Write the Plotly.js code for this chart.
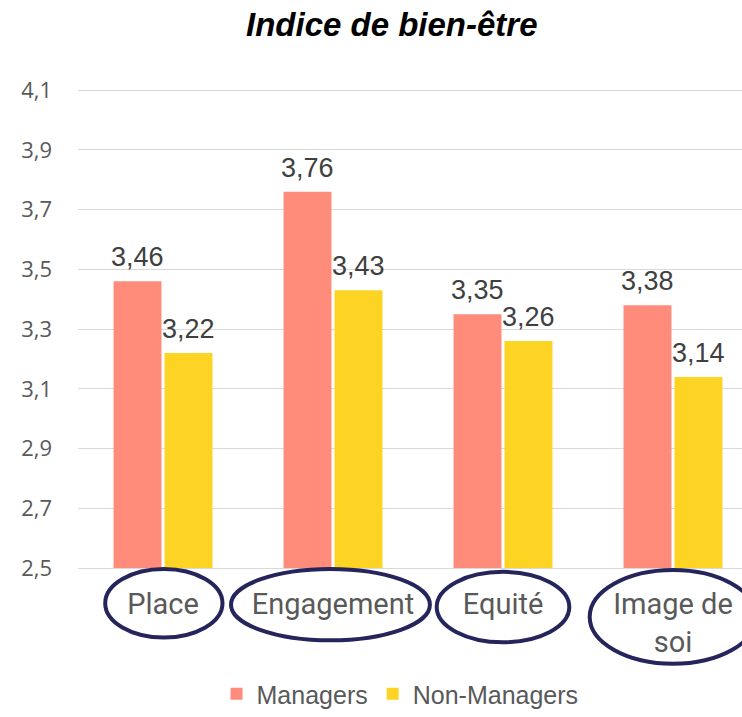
<!DOCTYPE html>
<html><head><meta charset="utf-8">
<script src="https://cdn.plot.ly/plotly-3.0.1.min.js"></script>
<style>html,body{margin:0;padding:0;background:#fff}</style>
</head><body><div id="chart" style="width:742px;height:717px"></div>
<script>
const categories = ["Place", "Engagement", "Equité", "Image de<br>soi"];
const managers = [3.46, 3.76, 3.35, 3.38];
const nonManagers = [3.22, 3.43, 3.26, 3.14];
const seriesNames = ["Managers", "Non-Managers"];
const yTicks = [2.5, 2.7, 2.9, 3.1, 3.3, 3.5, 3.7, 3.9, 4.1];

const fmt = v => v.toFixed(2).replace('.', ',');
const traces = [
  {type: "bar", name: seriesNames[0], x: [0,1,2,3], y: managers,
   marker: {color: "#FF8B7B"}, hoverinfo: "none"},
  {type: "bar", name: seriesNames[1], x: [0,1,2,3], y: nonManagers,
   marker: {color: "#FDD324"}, hoverinfo: "none"}
];

const labelFont = {family: "'Liberation Sans', Arial, sans-serif", size: 27, color: "#404040"};
const annotations = [];
[managers, nonManagers].forEach((arr, si) => {
  arr.forEach((v, i) => {
    annotations.push({x: i, y: v, xref: "x", yref: "y", text: fmt(v), showarrow: false,
      xanchor: "center", yanchor: "bottom", xshift: si === 0 ? -25.5 : 25.5, yshift: 7,
      font: labelFont});
  });
});

// ellipses around category labels (in category units, paper y below axis)
const ellipseSpans = [[-0.34, 0.35, -0.002, -0.145], [0.40, 1.57, -0.002, -0.151], [1.61, 2.39, -0.008, -0.155], [2.51, 3.49, -0.004, -0.2]];
const shapes = ellipseSpans.map(s => ({type: "circle", xref: "x", yref: "paper",
  x0: s[0], x1: s[1], y0: s[2], y1: s[3], line: {color: "#25255C", width: 4}, layer: "above"}));

const layout = {
  width: 742, height: 717,
  margin: {l: 78, r: 0, t: 89, b: 149, autoexpand: false},
  paper_bgcolor: "#fff", plot_bgcolor: "#fff",
  separators: ",.",
  title: {text: "<b><i>Indice de bien-être</i></b>", x: 0.528, xref: "container", xanchor: "center",
          y: 0.966, yref: "container", yanchor: "middle",
          font: {family: "'Liberation Sans', Arial, sans-serif", size: 33, color: "#000"}},
  barmode: "group", bargap: 0.4, bargroupgap: 0.06,
  xaxis: {range: [-0.5, 3.406], tickmode: "array", tickvals: [0,1,2,3], ticktext: categories,
          showgrid: false, zeroline: false, showline: true, linecolor: "#d9d9d9", linewidth: 1,
          ticks: "", ticklabelstandoff: 10,
          tickfont: {family: "Roboto, 'Liberation Sans', sans-serif", size: 29, color: "#595959"},
          fixedrange: true},
  yaxis: {range: [2.5, 4.104], tickmode: "array", tickvals: yTicks, tickformat: ".1f",
          showgrid: true, gridcolor: "#d9d9d9", gridwidth: 1, zeroline: false, showline: false,
          ticks: "", ticklabelstandoff: 25,
          tickfont: {family: "'Open Sans', 'Liberation Sans', sans-serif", size: 22, color: "#595959"},
          fixedrange: true},
  legend: {orientation: "h", x: 0.485, xanchor: "center", y: 0, yref: "container", yanchor: "bottom",
           font: {family: "'Liberation Sans', Arial, sans-serif", size: 25, color: "#595959"},
           itemwidth: 30, traceorder: "normal"},
  annotations: annotations,
  shapes: shapes,
  showlegend: true
};
Plotly.newPlot("chart", traces, layout, {displayModeBar: false, staticPlot: true});
</script></body></html>
